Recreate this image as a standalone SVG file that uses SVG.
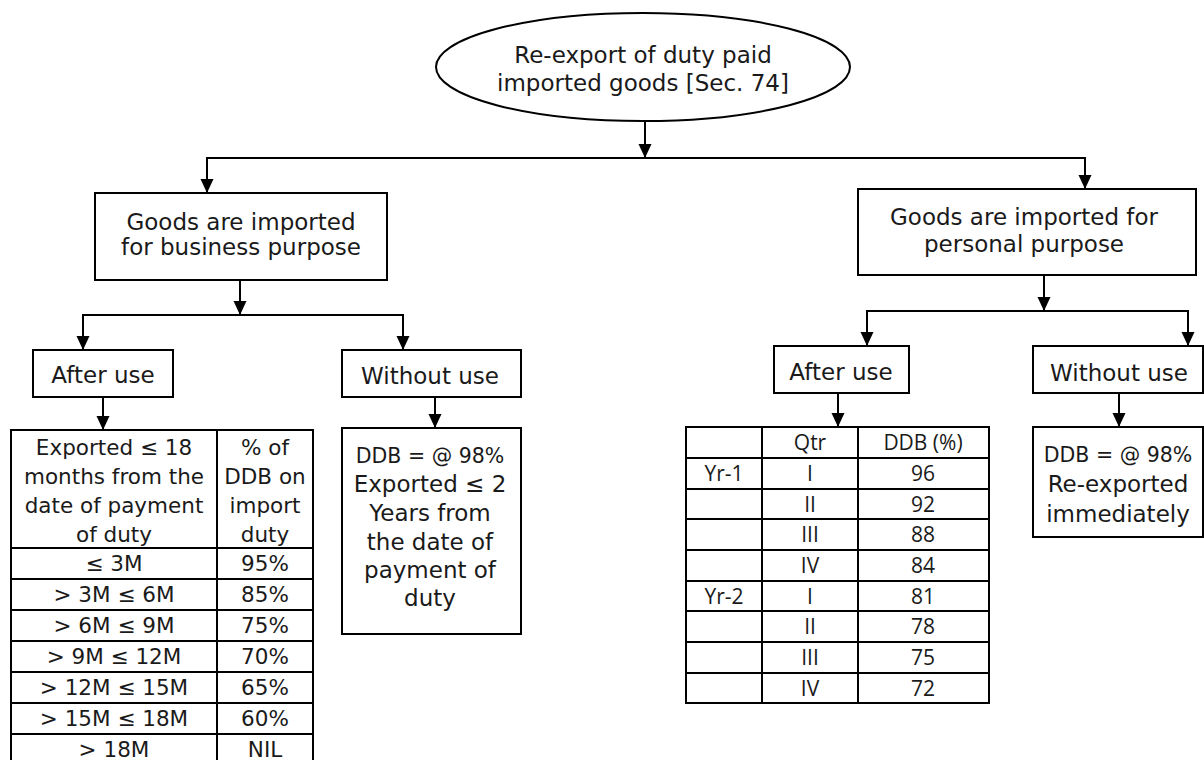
<svg xmlns="http://www.w3.org/2000/svg" width="1204" height="760" viewBox="0 0 1204 760">
<defs>
<marker id="ah" markerUnits="userSpaceOnUse" markerWidth="14" markerHeight="14" refX="14" refY="6.5" orient="auto">
<path d="M0,0 L14,6.5 L0,13 z" fill="#000"/>
</marker>
<style>
.box{fill:#fff;stroke:#000;stroke-width:2}
.ln{fill:none;stroke:#000;stroke-width:2}
.ar{fill:none;stroke:#000;stroke-width:2;marker-end:url(#ah)}
text{font-family:"DejaVu Sans",sans-serif;font-size:23px;fill:#1a1a1a;text-anchor:middle}
.t{font-size:21.5px}
.s{font-size:20.5px}
.n{font-family:"Open Sans","DejaVu Sans",sans-serif;font-size:21px}
</style>
</defs>
<rect width="1204" height="760" fill="#fff"/>

<g id="connectors">
<line class="ar" x1="645" y1="121" x2="645" y2="158"/>
<line class="ln" x1="206" y1="158" x2="1086" y2="158"/>
<line class="ar" x1="207" y1="158" x2="207" y2="193"/>
<line class="ar" x1="1085" y1="158" x2="1085" y2="189"/>
<line class="ar" x1="240" y1="280" x2="240" y2="315"/>
<line class="ln" x1="82" y1="315" x2="404" y2="315"/>
<line class="ar" x1="83" y1="315" x2="83" y2="350"/>
<line class="ar" x1="403" y1="315" x2="403" y2="350"/>
<line class="ar" x1="103" y1="397" x2="103" y2="430"/>
<line class="ar" x1="435" y1="397" x2="435" y2="428"/>
<line class="ar" x1="1044" y1="275" x2="1044" y2="311"/>
<line class="ln" x1="866" y1="311" x2="1189" y2="311"/>
<line class="ar" x1="867" y1="311" x2="867" y2="346"/>
<line class="ar" x1="1188" y1="311" x2="1188" y2="346"/>
<line class="ar" x1="838" y1="393" x2="838" y2="427"/>
<line class="ar" x1="1119" y1="393" x2="1119" y2="427"/>
</g>

<g id="root">
<ellipse class="box" cx="643" cy="67" rx="207" ry="54"/>
<text x="643" y="63">Re-export of duty paid</text>
<text x="643" y="91">imported goods [Sec. 74]</text>
</g>

<g id="business">
<rect class="box" x="95" y="193" width="292" height="87"/>
<text x="241" y="230">Goods are imported</text>
<text x="241" y="255">for business purpose</text>
</g>

<g id="business-after-use">
<rect class="box" x="33" y="350" width="140" height="47"/>
<text x="103" y="383">After use</text>
</g>

<g id="business-without-use">
<rect class="box" x="342" y="350" width="179" height="47"/>
<text x="430" y="384">Without use</text>
</g>

<g id="business-after-table">
<rect class="box" x="11" y="430" width="302" height="335"/>
<line class="ln" x1="217" y1="430" x2="217" y2="765"/>
<line class="ln" x1="11" y1="548" x2="313" y2="548"/>
<line class="ln" x1="11" y1="579" x2="313" y2="579"/>
<line class="ln" x1="11" y1="610" x2="313" y2="610"/>
<line class="ln" x1="11" y1="641" x2="313" y2="641"/>
<line class="ln" x1="11" y1="672" x2="313" y2="672"/>
<line class="ln" x1="11" y1="703" x2="313" y2="703"/>
<line class="ln" x1="11" y1="734" x2="313" y2="734"/>
<text class="t" x="114" y="455">Exported ≤ 18</text>
<text class="t" x="114" y="484">months from the</text>
<text class="t" x="114" y="513">date of payment</text>
<text class="t" x="114" y="542">of duty</text>
<text class="t" x="265" y="455">% of</text>
<text class="t" x="265" y="484">DDB on</text>
<text class="t" x="265" y="513">import</text>
<text class="t" x="265" y="542">duty</text>
<text class="t" x="114" y="571">≤ 3M</text><text class="t" x="265" y="571">95%</text>
<text class="t" x="114" y="602">&gt; 3M ≤ 6M</text><text class="t" x="265" y="602">85%</text>
<text class="t" x="114" y="633">&gt; 6M ≤ 9M</text><text class="t" x="265" y="633">75%</text>
<text class="t" x="114" y="664">&gt; 9M ≤ 12M</text><text class="t" x="265" y="664">70%</text>
<text class="t" x="114" y="695">&gt; 12M ≤ 15M</text><text class="t" x="265" y="695">65%</text>
<text class="t" x="114" y="726">&gt; 15M ≤ 18M</text><text class="t" x="265" y="726">60%</text>
<text class="t" x="114" y="757">&gt; 18M</text><text class="t" x="265" y="757">NIL</text>
</g>

<g id="business-without-ddb">
<rect class="box" x="342" y="428" width="179" height="206"/>
<text class="s" x="430" y="463">DDB = @ 98%</text>
<text x="430" y="492">Exported ≤ 2</text>
<text x="430" y="521">Years from</text>
<text x="430" y="550">the date of</text>
<text x="430" y="578">payment of</text>
<text x="430" y="606">duty</text>
</g>

<g id="personal">
<rect class="box" x="858" y="189" width="338" height="86"/>
<text x="1024" y="225">Goods are imported for</text>
<text x="1024" y="252">personal purpose</text>
</g>

<g id="personal-after-use">
<rect class="box" x="774" y="346" width="135" height="47"/>
<text x="841" y="380">After use</text>
</g>

<g id="personal-without-use">
<rect class="box" x="1033" y="346" width="170" height="47"/>
<text x="1119" y="381">Without use</text>
</g>

<g id="personal-after-table">
<rect class="box" x="686" y="427" width="303" height="276"/>
<line class="ln" x1="762" y1="427" x2="762" y2="703"/>
<line class="ln" x1="858" y1="427" x2="858" y2="703"/>
<line class="ln" x1="686" y1="458" x2="989" y2="458"/>
<line class="ln" x1="686" y1="489" x2="989" y2="489"/>
<line class="ln" x1="686" y1="519" x2="989" y2="519"/>
<line class="ln" x1="686" y1="550" x2="989" y2="550"/>
<line class="ln" x1="686" y1="581" x2="989" y2="581"/>
<line class="ln" x1="686" y1="611" x2="989" y2="611"/>
<line class="ln" x1="686" y1="642" x2="989" y2="642"/>
<line class="ln" x1="686" y1="673" x2="989" y2="673"/>
<text class="n" x="810" y="450">Qtr</text><text class="n" x="923" y="450">DDB (%)</text>
<text class="n" x="724" y="481">Yr-1</text><text class="n" x="810" y="481">I</text><text class="n" x="923" y="481">96</text>
<text class="n" x="810" y="512">II</text><text class="n" x="923" y="512">92</text>
<text class="n" x="810" y="542">III</text><text class="n" x="923" y="542">88</text>
<text class="n" x="810" y="573">IV</text><text class="n" x="923" y="573">84</text>
<text class="n" x="724" y="604">Yr-2</text><text class="n" x="810" y="604">I</text><text class="n" x="923" y="604">81</text>
<text class="n" x="810" y="634">II</text><text class="n" x="923" y="634">78</text>
<text class="n" x="810" y="665">III</text><text class="n" x="923" y="665">75</text>
<text class="n" x="810" y="696">IV</text><text class="n" x="923" y="696">72</text>
</g>

<g id="personal-without-ddb">
<rect class="box" x="1033" y="427" width="170" height="110"/>
<text class="s" x="1118" y="462">DDB = @ 98%</text>
<text x="1118" y="492">Re-exported</text>
<text x="1118" y="522">immediately</text>
</g>
</svg>
